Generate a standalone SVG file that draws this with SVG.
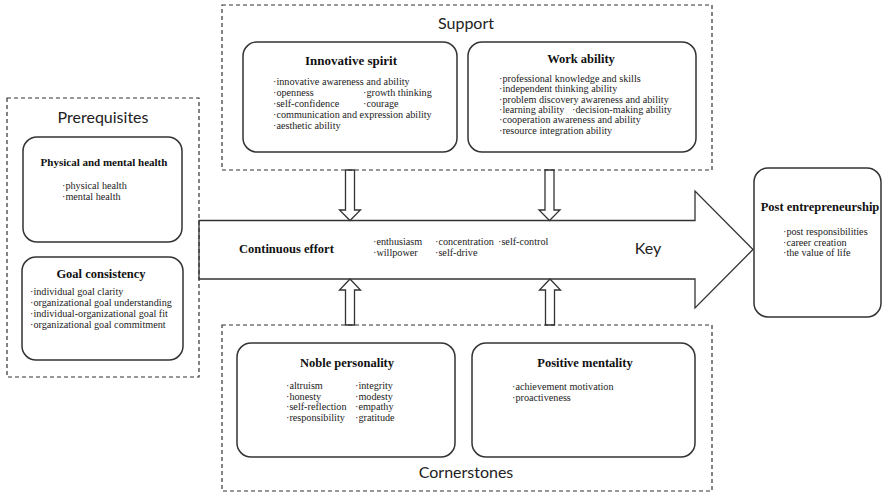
<svg xmlns="http://www.w3.org/2000/svg" width="882" height="493" viewBox="0 0 882 493">
<style>
.dash{fill:none;stroke:#333;stroke-width:1.2;stroke-dasharray:4 3}
.box{fill:#fff;stroke:#333;stroke-width:1.5}
.h{font-family:Lato,"Open Sans",sans-serif;font-size:16px;fill:#222;text-anchor:middle}
.t{font-family:"Liberation Serif","Times New Roman",serif;font-weight:bold;font-size:12.5px;fill:#111;text-anchor:middle}
.b{font-family:"Liberation Serif","Times New Roman",serif;font-size:10.2px;fill:#222}
.arr{fill:#fff;stroke:#333;stroke-width:1.3;stroke-linejoin:miter}
</style>
<rect width="882" height="493" fill="#fff"/>
<g id="connectors">
<polygon class="arr" points="199,220.5 695,220.5 695,191 753,249.5 695,308 695,279 199,279"/>
<polygon class="arr" points="345.5,170 354.5,170 354.5,210 360.5,210 350,220.5 339.5,210 345.5,210"/>
<polygon class="arr" points="545,170 554,170 554,210 560,210 549.5,220.5 539,210 545,210"/>
<polygon class="arr" points="345.5,325 354.5,325 354.5,290 360.5,290 350,279 339.5,290 345.5,290"/>
<polygon class="arr" points="545.5,325 554.5,325 554.5,290 560.5,290 550,279 539.5,290 545.5,290"/>
</g>
<g id="continuous-effort">
<text class="t" x="239" y="253" style="text-anchor:start">Continuous effort</text>
<text class="b" x="373" y="245">·enthusiasm</text>
<text class="b" x="373" y="256">·willpower</text>
<text class="b" x="435" y="245">·concentration</text>
<text class="b" x="435" y="256">·self-drive</text>
<text class="b" x="498" y="245">·self-control</text>
<text class="h" x="648" y="254">Key</text>
</g>
<g id="support">
<rect class="dash" x="222" y="5" width="490" height="165"/>
<text class="h" x="466" y="29">Support</text>
</g>
<g id="innovative-spirit">
<rect class="box" x="243" y="42" width="214" height="110" rx="14"/>
<text class="t" x="351" y="65" style="font-size:13px">Innovative spirit</text>
<text class="b" x="273" y="85">·innovative awareness and ability</text>
<text class="b" x="273" y="96">·openness</text>
<text class="b" x="363" y="96">·growth thinking</text>
<text class="b" x="273" y="107">·self-confidence</text>
<text class="b" x="363" y="107">·courage</text>
<text class="b" x="273" y="118">·communication and expression ability</text>
<text class="b" x="273" y="129">·aesthetic ability</text>
</g>
<g id="work-ability">
<rect class="box" x="468" y="42" width="228" height="110" rx="14"/>
<text class="t" x="581" y="63">Work ability</text>
<text class="b" x="499" y="82">·professional knowledge and skills</text>
<text class="b" x="499" y="92.3">·independent thinking ability</text>
<text class="b" x="499" y="102.6">·problem discovery awareness and ability</text>
<text class="b" x="499" y="112.9">·learning ability</text>
<text class="b" x="572" y="112.9">·decision-making ability</text>
<text class="b" x="499" y="123.2">·cooperation awareness and ability</text>
<text class="b" x="499" y="133.5">·resource integration ability</text>
</g>
<g id="prerequisites">
<rect class="dash" x="7" y="98" width="192" height="279"/>
<text class="h" x="103" y="123">Prerequisites</text>
</g>
<g id="physical-mental-health">
<rect class="box" x="23" y="137" width="159" height="105" rx="14"/>
<text class="t" x="104" y="166" style="font-size:11px">Physical and mental health</text>
<text class="b" x="62" y="189">·physical health</text>
<text class="b" x="62" y="200">·mental health</text>
</g>
<g id="goal-consistency">
<rect class="box" x="22" y="257" width="161" height="103" rx="14"/>
<text class="t" x="101" y="278">Goal consistency</text>
<text class="b" x="30" y="295">·individual goal clarity</text>
<text class="b" x="30" y="306">·organizational goal understanding</text>
<text class="b" x="30" y="317">·individual-organizational goal fit</text>
<text class="b" x="30" y="328">·organizational goal commitment</text>
</g>
<g id="cornerstones">
<rect class="dash" x="222" y="325" width="490" height="166"/>
<text class="h" x="466" y="478">Cornerstones</text>
</g>
<g id="noble-personality">
<rect class="box" x="237" y="343" width="218" height="114" rx="14"/>
<text class="t" x="347" y="367">Noble personality</text>
<text class="b" x="286" y="389">·altruism</text>
<text class="b" x="286" y="399.5">·honesty</text>
<text class="b" x="286" y="410">·self-reflection</text>
<text class="b" x="286" y="420.5">·responsibility</text>
<text class="b" x="355" y="389">·integrity</text>
<text class="b" x="355" y="399.5">·modesty</text>
<text class="b" x="355" y="410">·empathy</text>
<text class="b" x="355" y="420.5">·gratitude</text>
</g>
<g id="positive-mentality">
<rect class="box" x="472" y="343" width="223" height="114" rx="14"/>
<text class="t" x="585" y="367">Positive mentality</text>
<text class="b" x="512" y="390">·achievement motivation</text>
<text class="b" x="512" y="401">·proactiveness</text>
</g>
<g id="post-entrepreneurship">
<rect class="box" x="754" y="168" width="127" height="149" rx="14"/>
<text class="t" x="820" y="211">Post entrepreneurship</text>
<text class="b" x="783" y="235">·post responsibilities</text>
<text class="b" x="783" y="245.5">·career creation</text>
<text class="b" x="783" y="256">·the value of life</text>
</g>
</svg>
